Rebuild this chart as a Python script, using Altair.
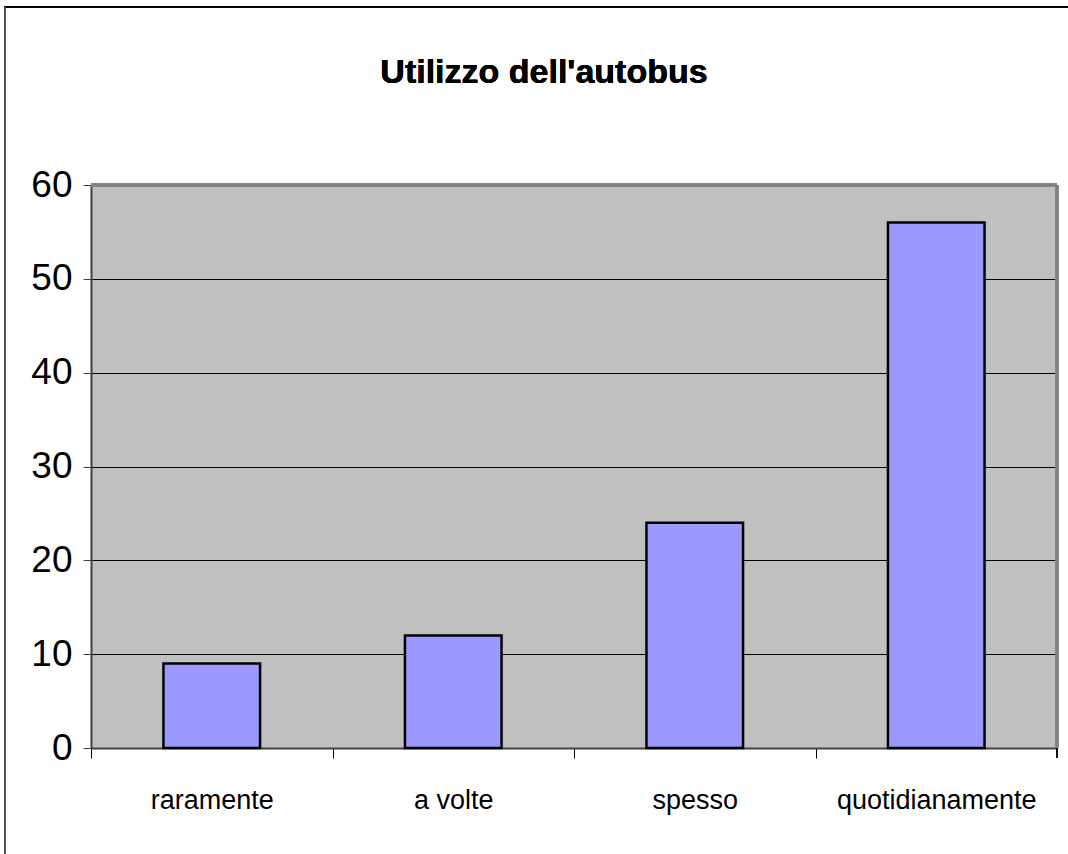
import altair as alt
import pandas as pd

categories = ["raramente", "a volte", "spesso", "quotidianamente"]
values = [9, 12, 24, 56]
y_ticks = [0, 10, 20, 30, 40, 50, 60]
title_text = "Utilizzo dell'autobus"

df = pd.DataFrame({"categoria": categories, "valore": values})

W, H = 966, 563
STEP = W / len(categories)
BAND = 0.4 * STEP
FONT = "Liberation Sans, Arial"
TICK_SHIFT = BAND / 2 + 0.3 * STEP  # from band centre to the category boundary

x_scale = alt.Scale(domain=categories, paddingInner=0.6, paddingOuter=0.3)
y_scale = alt.Scale(domain=[0, 60], nice=False)

bars = alt.Chart(df).mark_bar(
    color="#9999FF", stroke="black", strokeWidth=2.5
).encode(
    x=alt.X("categoria:N", scale=x_scale, sort=categories,
            axis=alt.Axis(title=None, labelAngle=0,
                          tickOffset=-TICK_SHIFT, labelOffset=TICK_SHIFT,
                          labelLimit=0,
                          labelFontSize=27, labelFont=FONT,
                          labelColor="black", labelPadding=29,
                          tickSize=10, tickColor="black", tickWidth=1,
                          domainColor="#404040", domainWidth=2, grid=False)),
    y=alt.Y("valore:Q", scale=y_scale,
            axis=alt.Axis(title=None, values=y_ticks, labelFontSize=37,
                          labelFont=FONT, labelColor="black",
                          labelPadding=11, tickSize=8, tickColor="#404040",
                          domainColor="#404040", domainWidth=2,
                          grid=True, gridColor="black", gridWidth=1)),
)

# closing tick at the right end of the category axis
end_tick = alt.Chart(df).mark_rule(color="black", strokeWidth=1).encode(
    x=alt.value(W), y=alt.value(H), y2=alt.value(H + 10)
)

# gray top/right border of the plot area
top_edge = alt.Chart(df).mark_rule(color="#808080", strokeWidth=3).encode(
    x=alt.value(0), x2=alt.value(W), y=alt.value(0)
)
right_edge = alt.Chart(df).mark_rule(color="#808080", strokeWidth=3).encode(
    x=alt.value(W), y=alt.value(0), y2=alt.value(H)
)

# outer frame of the figure
frame_top = alt.Chart(df).mark_rule(color="black", strokeWidth=2, clip=False).encode(
    x=alt.value(-87), x2=alt.value(W + 20), y=alt.value(-178)
)
frame_left = alt.Chart(df).mark_rule(color="#555555", strokeWidth=2, clip=False).encode(
    x=alt.value(-86), y=alt.value(-178), y2=alt.value(H + 120)
)

# chart heading
heading = alt.Chart(df).mark_text(
    font=FONT, fontSize=34, fontWeight="bold", color="black",
    align="center", baseline="alphabetic"
).encode(
    x=alt.value(W / 2 - 30), y=alt.value(-102), text=alt.value(title_text)
)

chart = alt.layer(
    bars, end_tick, top_edge, right_edge, frame_top, frame_left, heading
).properties(
    width=W, height=H,
    background="white",
    autosize=alt.AutoSizeParams(type="none"),
    padding={"left": 91, "top": 185, "right": 11, "bottom": 106},
).configure_view(
    fill="#C0C0C0", stroke=None
)

chart.save("out.html", embed_options={"renderer": "svg", "actions": False})
